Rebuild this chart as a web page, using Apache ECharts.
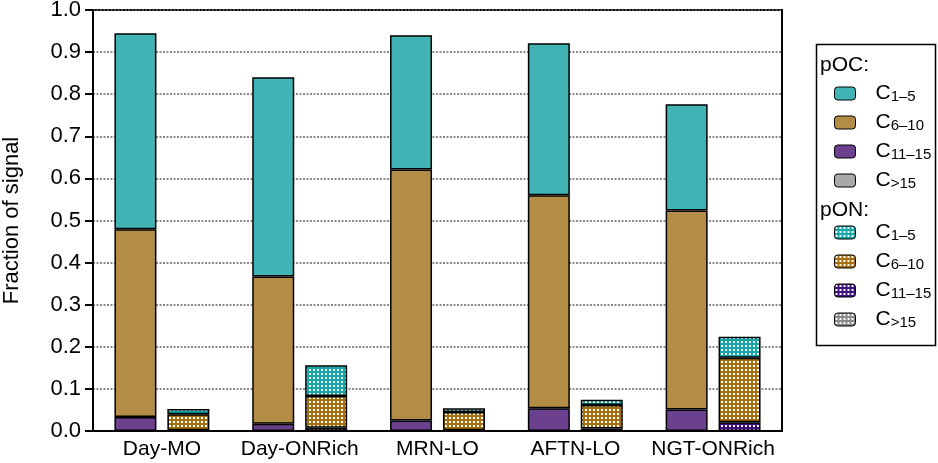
<!DOCTYPE html>
<html>
<head>
<meta charset="utf-8">
<script src="https://cdn.jsdelivr.net/npm/echarts@6/dist/echarts.min.js"></script>
<style>html,body{margin:0;padding:0;background:#fff;}#c{width:938px;height:463px;}</style>
</head>
<body>
<div id="c"></div>
<script>
const categories = ['Day-MO', 'Day-ONRich', 'MRN-LO', 'AFTN-LO', 'NGT-ONRich'];
const yTicks = [0, 0.1, 0.2, 0.3, 0.4, 0.5, 0.6, 0.7, 0.8, 0.9, 1.0];
const subLabels = ['1–5', '6–10', '11–15', '>15'];

// pOC fractions
const pOC_C1_5   = [0.466, 0.473, 0.319, 0.361, 0.252];
const pOC_C6_10  = [0.446, 0.350, 0.596, 0.506, 0.473];
const pOC_C11_15 = [0.033, 0.017, 0.025, 0.054, 0.051];
const pOC_C15p   = [0, 0, 0, 0, 0];

// pON fractions
const pON_C1_5   = [0.012, 0.073, 0.009, 0.012, 0.050];
const pON_C6_10  = [0.038, 0.075, 0.043, 0.056, 0.153];
const pON_C11_15 = [0.002, 0.008, 0.002, 0.006, 0.021];
const pON_C15p   = [0, 0, 0, 0, 0];

const FONT = '"Liberation Sans", Arial, sans-serif';
const ocColors = ['#40B4B4', '#B38D45', '#6B408F', '#A9A9A9'];
const onColors = ['#16A8A8', '#A5700F', '#3E127F', '#8A8A8A'];

function pattern(color) {
  const c = document.createElement('canvas');
  c.width = 4; c.height = 4;
  const ctx = c.getContext('2d');
  ctx.fillStyle = color; ctx.fillRect(0, 0, 4, 4);
  ctx.fillStyle = '#fff'; ctx.fillRect(1, 1, 2, 2);
  return { image: c, repeat: 'repeat' };
}

const ocData = [pOC_C1_5, pOC_C6_10, pOC_C11_15, pOC_C15p];
const onData = [pON_C1_5, pON_C6_10, pON_C11_15, pON_C15p];
const ocNames = subLabels.map(s => 'pOC C' + s);
const onNames = subLabels.map(s => 'pON C' + s);
const subOf = {};
ocNames.forEach((n, i) => subOf[n] = subLabels[i]);
onNames.forEach((n, i) => subOf[n] = subLabels[i]);

const series = [];
// stack bottom first: >15, 11-15, 6-10, 1-5
for (let i = 3; i >= 0; i--) {
  series.push({
    name: ocNames[i], type: 'bar', stack: 'oc', data: ocData[i],
    barWidth: 42, barGap: '26%',
    itemStyle: { color: ocColors[i], borderColor: '#000', borderWidth: 1.5 }
  });
}
for (let i = 3; i >= 0; i--) {
  series.push({
    name: onNames[i], type: 'bar', stack: 'on', data: onData[i],
    barWidth: 42, barGap: '26%',
    itemStyle: { color: pattern(onColors[i]), borderColor: '#000', borderWidth: 1.5 }
  });
}

const legendBase = {
  orient: 'vertical', left: 834, itemWidth: 21, itemHeight: 13, itemGap: 4, padding: 0,
  itemStyle: { borderColor: '#000', borderWidth: 1 },
  formatter: n => '{c|C}{s|' + subOf[n] + '}',
  textStyle: {
    rich: {
      c: { fontSize: 21, fontFamily: FONT, color: '#000', lineHeight: 21, padding: [0, 0, 0, 15], verticalAlign: 'top' },
      s: { fontSize: 15, fontFamily: FONT, color: '#000', lineHeight: 20, padding: [10, 0, 0, 0], verticalAlign: 'bottom' }
    }
  }
};

const chart = echarts.init(document.getElementById('c'));
chart.setOption({
  animation: false,
  backgroundColor: '#fff',
  grid: { left: 93, right: 156, top: 10, bottom: 32, show: true, borderColor: '#000', borderWidth: 2, outerBoundsMode: 'none', containLabel: false },
  xAxis: {
    type: 'category', data: categories,
    axisLine: { lineStyle: { color: '#000', width: 2 } },
    axisTick: { length: 8, lineStyle: { color: '#000', width: 2 } },
    axisLabel: { fontSize: 21, fontFamily: FONT, color: '#000', margin: 8, interval: 0 }
  },
  yAxis: {
    type: 'value', min: 0, max: 1, interval: 0.1,
    name: 'Fraction of signal', nameLocation: 'middle', nameGap: 70,
    nameTextStyle: { fontSize: 22, fontFamily: FONT, color: '#000' },
    axisLine: { show: true, lineStyle: { color: '#000', width: 2 } },
    axisTick: { show: true, length: 8, lineStyle: { color: '#000', width: 2 } },
    axisLabel: { fontSize: 22, fontFamily: FONT, color: '#000', margin: 12,
      formatter: v => { const t = yTicks.find(x => Math.abs(x - v) < 1e-9); return (t !== undefined ? t : v).toFixed(1); } },
    splitLine: { show: true, lineStyle: { color: '#666', width: 1.5, type: [2, 1.5] } }
  },
  legend: [
    Object.assign({}, legendBase, { top: 79, data: ocNames }),
    Object.assign({}, legendBase, { top: 218, data: onNames })
  ],
  graphic: [
    { type: 'rect', left: 814, top: 42, shape: { width: 119, height: 301 }, style: { fill: 'none', stroke: '#000', lineWidth: 1.5 }, z: 100 },
    { type: 'text', left: 820, top: 55, style: { text: 'pOC:', fontSize: 21, fontFamily: FONT, fill: '#000' }, z: 100 },
    { type: 'text', left: 820, top: 200, style: { text: 'pON:', fontSize: 21, fontFamily: FONT, fill: '#000' }, z: 100 }
  ],
  series: series
});
</script>
</body>
</html>
